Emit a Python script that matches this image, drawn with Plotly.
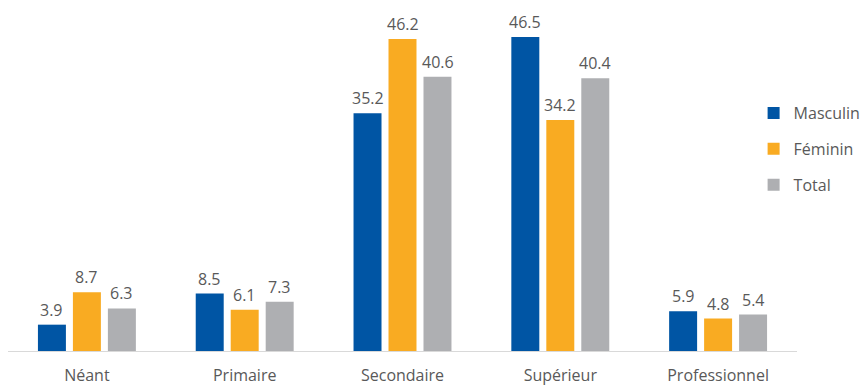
import plotly.graph_objects as go

# Niveau d'instruction, en %
categories = ["Néant", "Primaire", "Secondaire", "Supérieur", "Professionnel"]
masculin = [3.9, 8.5, 35.2, 46.5, 5.9]
feminin = [8.7, 6.1, 46.2, 34.2, 4.8]
total = [6.3, 7.3, 40.6, 40.4, 5.4]

series = [
    ("Masculin", masculin, "#0055A4"),
    ("Féminin", feminin, "#F9AB22"),
    ("Total", total, "#AEAFB2"),
]

fig = go.Figure()
for i, (name, vals, col) in enumerate(series):
    fig.add_trace(go.Bar(
        x=categories,
        y=vals,
        name=name,
        legendgroup=name,
        marker=dict(color=col, line=dict(width=0)),
    ))
    # valeurs au-dessus des barres (décalées sur la position de chaque barre du groupe)
    for cat, v in zip(categories, vals):
        fig.add_annotation(
            x=cat, y=v, text=f"{v:.1f}",
            xshift=(i - 1) * 35, yshift=2,
            yanchor="bottom", showarrow=False,
            font=dict(color="#595959", size=16),
        )

fig.update_layout(
    width=868,
    height=386,
    margin=dict(l=0, r=79, t=0, b=43, autoexpand=False),
    paper_bgcolor="white",
    plot_bgcolor="white",
    font=dict(family="Open Sans, sans-serif", color="#595959", size=16),
    barmode="group",
    bargap=0.335,
    bargroupgap=0.2,
    showlegend=True,
    legend=dict(
        x=0.945, y=0.743, xanchor="left", yanchor="top",
        font=dict(size=16, color="#595959"),
        tracegroupgap=12,
        bgcolor="rgba(0,0,0,0)",
    ),
    xaxis=dict(
        showline=True, linecolor="#D9D9D9", linewidth=1,
        ticks="", tickfont=dict(size=16, color="#595959"),
        ticklabelstandoff=10,
        automargin=False,
    ),
    yaxis=dict(
        range=[0, 50.8], visible=False, showgrid=False, zeroline=False,
    ),
)

fig.write_html("out.html")
